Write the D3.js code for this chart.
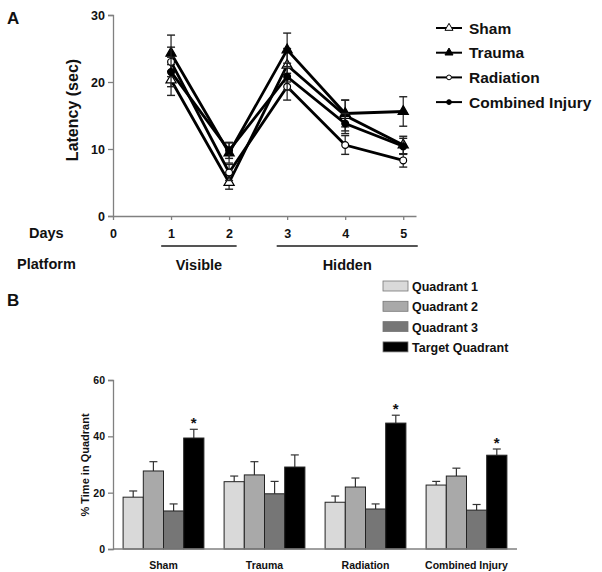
<!DOCTYPE html>
<html>
<head>
<meta charset="utf-8">
<script src="https://cdn.jsdelivr.net/npm/d3@7"></script>
<style>
  body { margin: 0; background: #fff; }
  text { font-family: "Liberation Sans", Arial, sans-serif; font-weight: bold; fill: #111; }
</style>
</head>
<body>
<script>
// panel A data - latency per training day
var days = [1, 2, 3, 4, 5];
var groupNames = ["Sham", "Trauma", "Radiation", "Combined Injury"];
var shamLatency      = [20.3, 5.0, 22.5, 15.0, 10.6];
var shamErr          = [2.3, 1.0, 2.5, 2.3, 1.3];
var traumaLatency    = [24.3, 9.4, 24.8, 15.3, 15.6];
var traumaErr        = [2.7, 1.5, 2.5, 2.0, 2.2];
var radiationLatency = [23.0, 6.5, 19.3, 10.6, 8.3];
var radiationErr     = [2.2, 1.2, 2.0, 1.4, 1.0];
var combinedLatency  = [21.5, 9.8, 20.8, 13.8, 10.4];
var combinedErr      = [2.2, 1.2, 2.0, 1.5, 1.2];
var latencyTicks = [0, 10, 20, 30];
var dayTicks = [0, 1, 2, 3, 4, 5];

// panel B data - % time in quadrant
var quadrants = ["Quadrant 1", "Quadrant 2", "Quadrant 3", "Target Quadrant"];
var shamTime      = [18.4, 27.7, 13.5, 39.4];
var shamTimeErr   = [2.2, 3.3, 2.5, 3.1];
var traumaTime    = [23.9, 26.3, 19.6, 29.1];
var traumaTimeErr = [2.0, 4.7, 4.4, 4.3];
var radTime       = [16.6, 22.0, 14.2, 44.7];
var radTimeErr    = [2.2, 3.2, 1.8, 2.8];
var combTime      = [22.7, 25.9, 13.8, 33.3];
var combTimeErr   = [1.3, 2.8, 2.0, 2.2];
var significant   = [true, false, true, true];
var percentTicks = [0, 20, 40, 60];

var W = 602, H = 572;
var svg = d3.select("body").append("svg").attr("width", W).attr("height", H);
svg.append("rect").attr("width", W).attr("height", H).attr("fill", "#fff");

var axisColor = "#808080";

// ---------- Panel A ----------
var xA = d3.scaleLinear().domain([0, 5.22]).range([113, 416]);
var yA = d3.scaleLinear().domain([0, 30]).range([216, 15]);

svg.append("text").attr("x", 7).attr("y", 24).style("font-size", "17px").text("A");

var gy = svg.append("g").attr("transform", "translate(113,0)")
  .call(d3.axisLeft(yA).tickValues(latencyTicks).tickSize(5).tickPadding(3));
var gx = svg.append("g").attr("transform", "translate(0,216)")
  .call(d3.axisBottom(xA).tickValues(dayTicks).tickFormat(d3.format("d"))
    .tickSize(4).tickPadding(9).tickSizeOuter(0));
[gy, gx].forEach(function(g) {
  g.selectAll("path, line").attr("stroke", axisColor).attr("stroke-width", 1.3);
  g.selectAll("text").style("font-size", "12.5px").attr("font-family", null);
});

svg.append("text").attr("transform", "translate(78,110) rotate(-90)")
  .attr("text-anchor", "middle").style("font-size", "16px").text("Latency (sec)");

svg.append("text").attr("x", 29).attr("y", 238).style("font-size", "14.5px").text("Days");
svg.append("text").attr("x", 17).attr("y", 269).style("font-size", "14.5px").text("Platform");

var phases = [
  {name: "Visible", from: 0.83, to: 2.13},
  {name: "Hidden", from: 2.82, to: 5.25}
];
phases.forEach(function(p) {
  svg.append("line").attr("x1", xA(p.from)).attr("x2", xA(p.to))
    .attr("y1", 246).attr("y2", 246).attr("stroke", "#555").attr("stroke-width", 2.2);
  svg.append("text").attr("x", (xA(p.from) + xA(p.to)) / 2).attr("y", 270)
    .attr("text-anchor", "middle").style("font-size", "14.5px").text(p.name);
});

var seriesA = [
  {name: groupNames[0], vals: shamLatency, err: shamErr, shape: d3.symbolTriangle, open: true},
  {name: groupNames[1], vals: traumaLatency, err: traumaErr, shape: d3.symbolTriangle, open: false},
  {name: groupNames[2], vals: radiationLatency, err: radiationErr, shape: d3.symbolCircle, open: true},
  {name: groupNames[3], vals: combinedLatency, err: combinedErr, shape: d3.symbolCircle, open: false}
];

var line = d3.line().x(function(d) { return xA(d.day); }).y(function(d) { return yA(d.v); });

seriesA.forEach(function(s) {
  var pts = days.map(function(d, i) { return {day: d, v: s.vals[i], e: s.err[i]}; });
  var g = svg.append("g");
  // error bars
  pts.forEach(function(p) {
    var x = xA(p.day);
    g.append("line").attr("x1", x).attr("x2", x).attr("y1", yA(p.v - p.e)).attr("y2", yA(p.v + p.e))
      .attr("stroke", "#222").attr("stroke-width", 1.2);
    [p.v - p.e, p.v + p.e].forEach(function(v) {
      g.append("line").attr("x1", x - 4).attr("x2", x + 4).attr("y1", yA(v)).attr("y2", yA(v))
        .attr("stroke", "#222").attr("stroke-width", 1.4);
    });
  });
  g.append("path").datum(pts).attr("d", line).attr("fill", "none")
    .attr("stroke", "#000").attr("stroke-width", 2.8);
  g.selectAll(".m").data(pts).enter().append("path")
    .attr("transform", function(d) { return "translate(" + xA(d.day) + "," + yA(d.v) + ")"; })
    .attr("d", d3.symbol().type(s.shape).size(s.shape === d3.symbolTriangle ? 45 : 36))
    .attr("fill", s.open ? "#fff" : "#000").attr("stroke", "#000").attr("stroke-width", 1.2);
});

// legend A
seriesA.forEach(function(s, i) {
  var y = 28 + i * 24.7;
  svg.append("line").attr("x1", 436).attr("x2", 462).attr("y1", y).attr("y2", y)
    .attr("stroke", "#000").attr("stroke-width", 2);
  svg.append("path").attr("transform", "translate(449," + y + ")")
    .attr("d", d3.symbol().type(s.shape).size(s.shape === d3.symbolTriangle ? 28 : 18))
    .attr("fill", s.open ? "#fff" : "#000").attr("stroke", "#000").attr("stroke-width", 1);
  svg.append("text").attr("x", 469).attr("y", y + 5.5).style("font-size", "15.5px").text(s.name);
});

// ---------- Panel B ----------
svg.append("text").attr("x", 7).attr("y", 306).style("font-size", "17px").text("B");

var quadColors = ["#d9d9d9", "#a9a9a9", "#767676", "#000000"];
var timeVals = [shamTime, traumaTime, radTime, combTime];
var timeErrs = [shamTimeErr, traumaTimeErr, radTimeErr, combTimeErr];

var x0 = d3.scaleBand().domain(groupNames).range([113, 517]).paddingInner(0.2).paddingOuter(0.1);
var x1 = d3.scaleBand().domain(quadrants).range([0, x0.bandwidth()]);
var yB = d3.scaleLinear().domain([0, 60]).range([549, 380]);

var gyB = svg.append("g").attr("transform", "translate(113,0)")
  .call(d3.axisLeft(yB).tickValues(percentTicks).tickSize(5).tickPadding(3));
gyB.selectAll("path, line").attr("stroke", axisColor).attr("stroke-width", 1.3);
gyB.selectAll("text").style("font-size", "10.5px").attr("font-family", null);

svg.append("text").attr("transform", "translate(89,465) rotate(-90)")
  .attr("text-anchor", "middle").style("font-size", "11px").text("% Time in Quadrant");

groupNames.forEach(function(gname, gi) {
  var g = svg.append("g").attr("transform", "translate(" + x0(gname) + ",0)");
  quadrants.forEach(function(q, qi) {
    var v = timeVals[gi][qi], e = timeErrs[gi][qi];
    var cx = x1(q) + x1.bandwidth() / 2;
    g.append("line").attr("x1", cx).attr("x2", cx).attr("y1", yB(v)).attr("y2", yB(v + e))
      .attr("stroke", "#333").attr("stroke-width", 1.2);
    g.append("line").attr("x1", cx - 4).attr("x2", cx + 4).attr("y1", yB(v + e)).attr("y2", yB(v + e))
      .attr("stroke", "#333").attr("stroke-width", 1.2);
    g.append("rect").attr("x", x1(q)).attr("y", yB(v))
      .attr("width", x1.bandwidth()).attr("height", yB(0) - yB(v))
      .attr("fill", quadColors[qi]).attr("stroke", "#222").attr("stroke-width", 1);
    if (qi === 3 && significant[gi]) {
      g.append("text").attr("x", cx).attr("y", yB(v + e) - 1).attr("text-anchor", "middle")
        .style("font-size", "15px").text("*");
    }
  });
  svg.append("text").attr("x", x0(gname) + x0.bandwidth() / 2).attr("y", 569)
    .attr("text-anchor", "middle").style("font-size", "10.5px").text(gname);
});

svg.append("line").attr("x1", 113).attr("x2", 517).attr("y1", 549).attr("y2", 549)
  .attr("stroke", axisColor).attr("stroke-width", 1.3);

// legend B
quadrants.forEach(function(q, i) {
  var y = 286 + i * 20.3;
  svg.append("rect").attr("x", 383).attr("y", y - 5).attr("width", 25).attr("height", 10)
    .attr("fill", quadColors[i]).attr("stroke", "#777").attr("stroke-width", 0.8);
  svg.append("text").attr("x", 412).attr("y", y + 5).style("font-size", "12.5px").text(q);
});
</script>
</body>
</html>
